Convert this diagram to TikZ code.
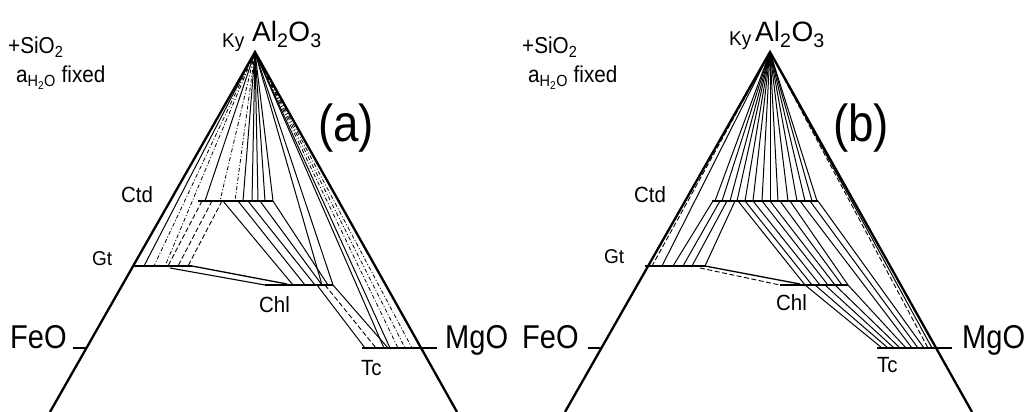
\documentclass[tikz,border=0pt]{standalone}
\usepackage{fontspec}
\setmainfont{Liberation Sans}
\tikzset{
  side/.style={line width=2.3pt},
  phase/.style={line width=2.5pt},
  tick/.style={line width=1.7pt},
  tie/.style={line width=1pt},
  tiedash/.style={line width=0.9pt, dash pattern=on 5pt off 2.5pt},
  tiedd/.style={line width=0.8pt, dash pattern=on 4pt off 2pt on 1pt off 2pt},
  lab/.style={font=\fontsize{22}{24}\selectfont, inner sep=0pt, anchor=base west, xscale=0.93},
  small/.style={font=\fontsize{20}{22}\selectfont, inner sep=0pt, anchor=base west, xscale=0.95},
  note/.style={font=\fontsize{23}{26}\selectfont, inner sep=0pt, anchor=base west, xscale=0.9},
  oxide/.style={font=\fontsize{33}{36}\selectfont, inner sep=0pt, anchor=base west, xscale=0.88},
  apexlab/.style={font=\fontsize{28}{30}\selectfont, inner sep=0pt, anchor=base west},
  panel/.style={font=\fontsize{52}{56}\selectfont, inner sep=0pt, xscale=0.88},
}
\begin{document}
\begin{tikzpicture}[x=1pt,y=-1pt]
\useasboundingbox (0,0) rectangle (1026,412);

% ================= (a) =================
\coordinate (Aa) at (255,52);
\coordinate (La) at (50,412);
\coordinate (Ra) at (457,412);
\draw[side] (La) -- (Aa) -- (Ra);
\coordinate (feoA1) at (73,348); \coordinate (feoA2) at (86.5,348);
\draw[tick] (feoA1) -- (feoA2);
% phase lines
\coordinate (gtA1) at (133,266); \coordinate (gtA2) at (192,266);
\coordinate (ctdA1) at (198,201); \coordinate (ctdA2) at (273,201);
\coordinate (chlA1) at (265,285); \coordinate (chlA2) at (333,285);
\coordinate (tcA1) at (362,348); \coordinate (tcA2) at (437,348);
\draw[phase] (gtA1) -- (gtA2);
\draw[phase] (ctdA1) -- (ctdA2);
\draw[phase] (chlA1) -- (chlA2);
\draw[phase] (tcA1) -- (tcA2);
\draw[line width=1.3pt] (gtA2) -- (287,284);
\draw[line width=1.1pt] (170,268) -- (chlA1);
% Ky - Ctd
\foreach \x in {205,243,252,258,265,273} \draw[tie] (Aa) -- (\x,201);
\foreach \x in {220,235} \draw[tiedd] (Aa) -- (\x,201);
% Ky - Gt
\draw[tie] (Aa) -- (144,266);
\foreach \x in {154,165} \draw[tiedd] (Aa) -- (\x,266);
% Ctd - Gt
\foreach \a/\b in {202/168,212/178,222/188} \draw[tiedash] (\a,201) -- (\b,266);
% Ctd - Chl
\foreach \a/\b in {223/293,238/305,248/315,260/322,273/328} \draw[tie] (\a,201) -- (\b,285);
% Ky - Chl
\foreach \x in {322,333} \draw[tie] (Aa) -- (\x,285);
% Chl - Tc
\draw[tie] (317,285) -- (365,348);
\draw[tiedash] (325,285) -- (376,348);
\draw[tie] (333,285) -- (388,348);
% Ky - Tc
\foreach \x in {384,390} \draw[tie] (Aa) -- (\x,348);
\foreach \x in {398,405,412} \draw[tiedd] (Aa) -- (\x,348);
% labels
\node[note] (sioA) at (8,54) {+SiO\textsubscript{2}};
\node[note] (aA) at (16,83) {a\textsubscript{H\textsubscript{2}O} fixed};
\node[small] (kyA) at (222,48) {Ky};
\node[apexlab] (alA) at (252,42) {Al\textsubscript{2}O\textsubscript{3}};
\node[panel] (pa) at (346,128) {(a)};
\node[lab] (ctdLA) at (121,202) {Ctd};
\node[small] (gtLA) at (92,265) {Gt};
\node[lab] (chlLA) at (259,312) {Chl};
\node[lab] (tcLA) at (361,375) {Tc};
\node[oxide] (feoLA) at (10,348) {FeO};
\node[oxide] (mgoLA) at (445,348) {MgO};

% ================= (b) =================
\coordinate (Ab) at (770,52);
\coordinate (Lb) at (565,412);
\coordinate (Rb) at (972,412);
\draw[side] (Lb) -- (Ab) -- (Rb);
\coordinate (feoB1) at (588,348); \coordinate (feoB2) at (601.5,348);
\draw[tick] (feoB1) -- (feoB2);
\coordinate (gtB1) at (645,266); \coordinate (gtB2) at (705,266);
\coordinate (ctdB1) at (712,201); \coordinate (ctdB2) at (818,201);
\coordinate (chlB1) at (780,285); \coordinate (chlB2) at (848,285);
\coordinate (tcB1) at (877,348); \coordinate (tcB2) at (952,348);
\draw[phase] (gtB1) -- (gtB2);
\draw[phase] (ctdB1) -- (ctdB2);
\draw[phase] (chlB1) -- (chlB2);
\draw[phase] (tcB1) -- (tcB2);
\draw[line width=1.3pt] (gtB2) -- (800,284);
\draw[tiedash] (700,268) -- (chlB1);
% Ky - Ctd
\foreach \x in {715,722,730,737,745,753,762,770,778,788,797,805,812,817} \draw[tie] (Ab) -- (\x,201);
% Ky - Gt
\draw[tiedash] (Ab) -- (652,266);
\draw[tie] (Ab) -- (662,266);
% Ctd - Gt
\foreach \a/\b in {713/673,720/683,727/692,735/705} \draw[tie] (\a,201) -- (\b,266);
% Ctd - Chl
\foreach \a/\b in {738/805,745/812,753/820,762/828,770/835,780/842,790/848} \draw[tie] (\a,201) -- (\b,285);
% Chl - Tc
\foreach \a/\b in {805/882,815/888,825/894,835/900,848/906} \draw[tie] (\a,285) -- (\b,348);
% Ctd - Tc
\foreach \a/\b in {800/912,810/918,818/924} \draw[tie] (\a,201) -- (\b,348);
% Ky - Tc
\draw[tiedash] (Ab) -- (928,348);
\draw[tie] (Ab) -- (932,348);
% labels
\node[note] (sioB) at (522,54) {+SiO\textsubscript{2}};
\node[note] (aB) at (528,83) {a\textsubscript{H\textsubscript{2}O} fixed};
\node[small] (kyB) at (729,46) {Ky};
\node[apexlab] (alB) at (755,42) {Al\textsubscript{2}O\textsubscript{3}};
\node[panel] (pb) at (861,128) {(b)};
\node[lab] (ctdLB) at (634,202) {Ctd};
\node[small] (gtLB) at (604,263) {Gt};
\node[lab] (chlLB) at (776,310) {Chl};
\node[lab] (tcLB) at (877,372) {Tc};
\node[oxide] (feoLB) at (522,348) {FeO};
\node[oxide] (mgoLB) at (962,348) {MgO};
\end{tikzpicture}
\end{document}
